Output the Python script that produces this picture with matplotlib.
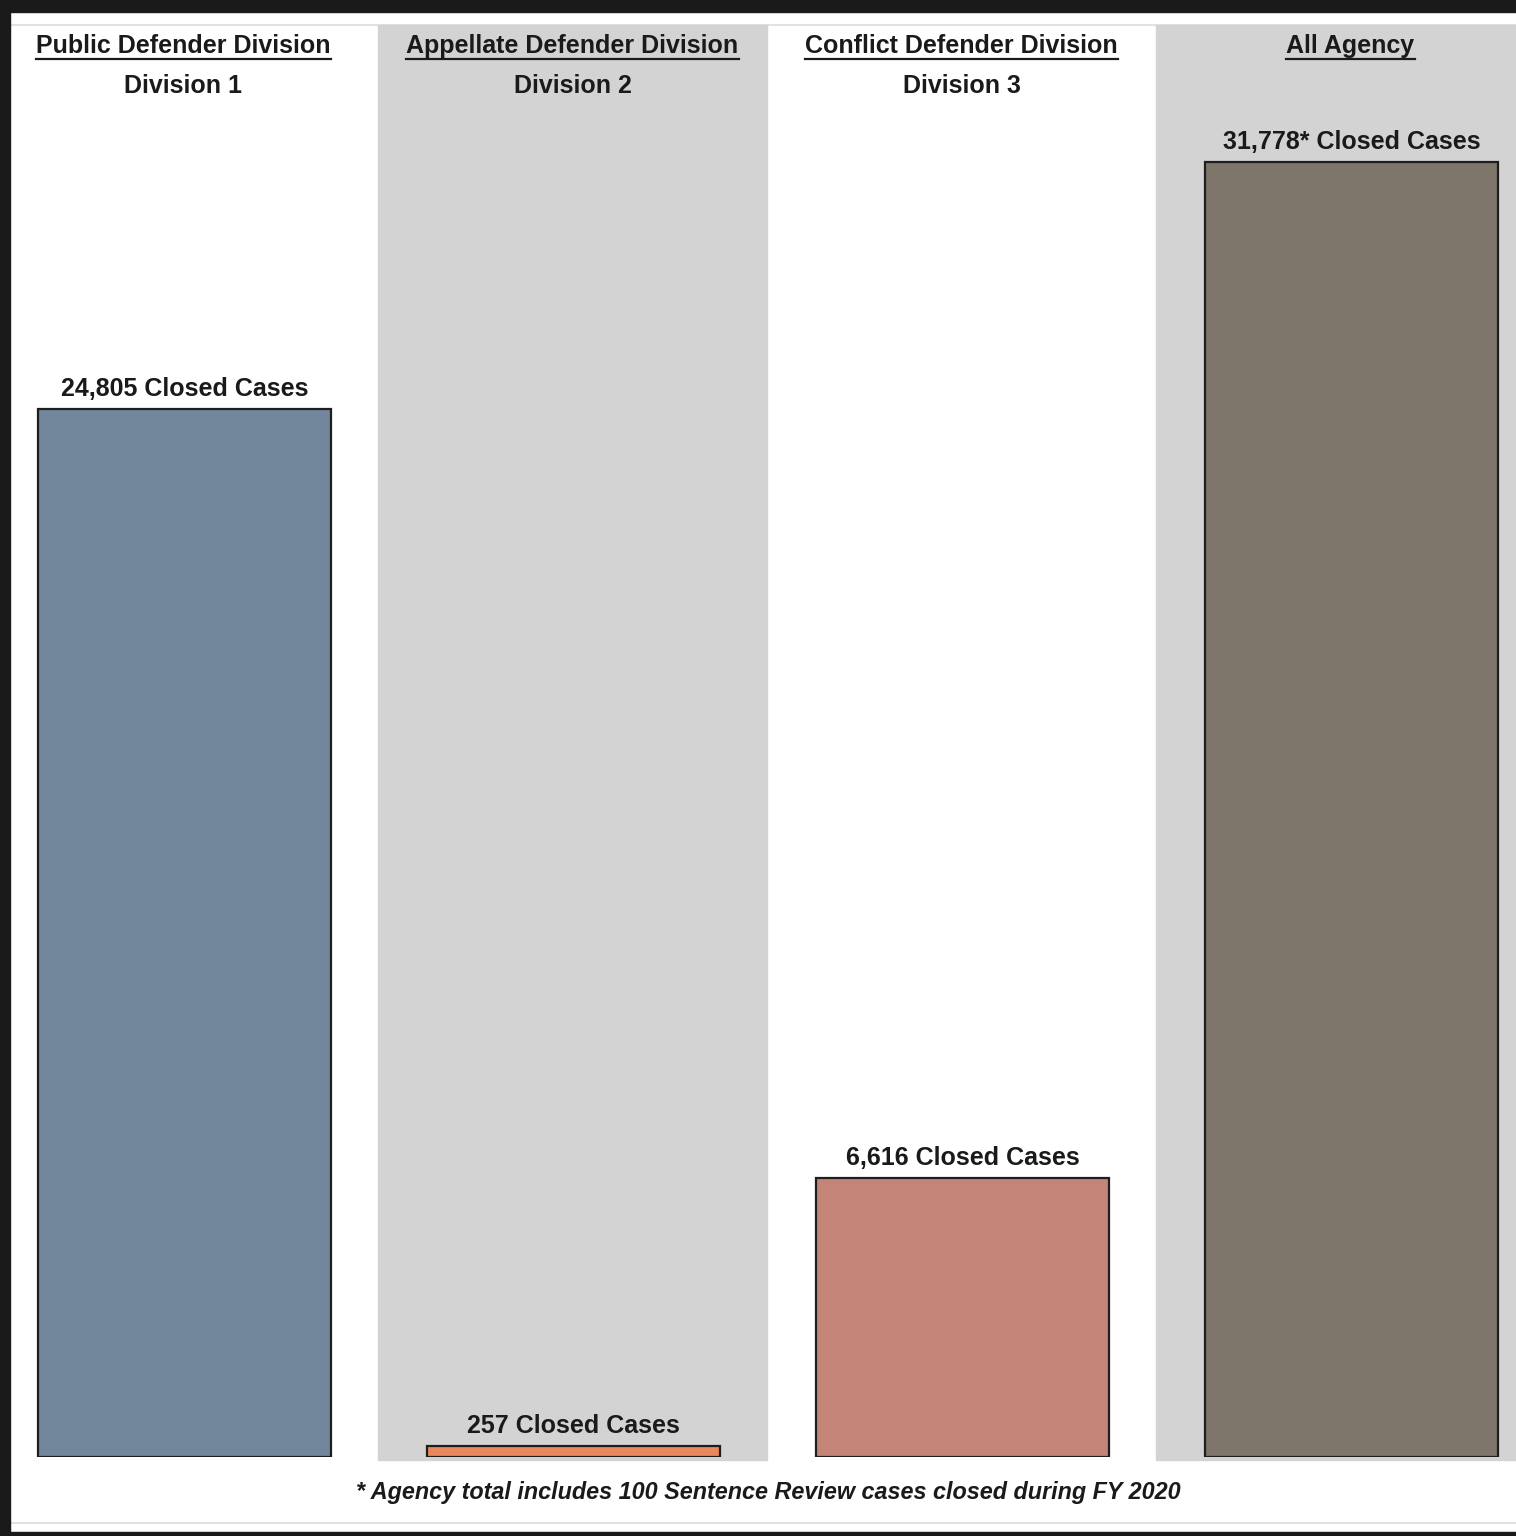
import matplotlib
matplotlib.use('Agg')
import matplotlib.pyplot as plt
from matplotlib.patches import Rectangle
from matplotlib.lines import Line2D

plt.rcParams['font.family'] = ['Liberation Sans', 'DejaVu Sans']

divisions = ['Public Defender Division', 'Appellate Defender Division',
             'Conflict Defender Division', 'All Agency']
subtitles = ['Division 1', 'Division 2', 'Division 3', '']
closed_cases = [24805, 257, 6616, 31778]
value_labels = ['24,805 Closed Cases', '257 Closed Cases',
                '6,616 Closed Cases', '31,778* Closed Cases']
footnote = '* Agency total includes 100 Sentence Review cases closed during FY 2020'

bar_colors = ['#72879b', '#e8885c', '#c48477', '#7e756b']
panel_colors = ['white', '#d3d3d3', 'white', '#d3d3d3']
ylims = [33900, 33900, 33900, 35150]   # last chart has its own scale

W, H = 1516, 1536
fig = plt.figure(figsize=(W / 100, H / 100), dpi=100)
fig.patch.set_facecolor('white')

def fx(px):
    return px / W

def fy(py):
    return 1 - py / H

# black frame (cropped screenshot: top, left, bottom)
fig.patches.append(Rectangle((0, fy(12)), 1, fy(0) - fy(12), transform=fig.transFigure,
                             color='#1a1a1a', zorder=-2))
fig.patches.append(Rectangle((0, 0), fx(10), 1, transform=fig.transFigure,
                             color='#1a1a1a', zorder=-2))
fig.patches.append(Rectangle((0, 0), 1, fy(1532), transform=fig.transFigure,
                             color='#1a1a1a', zorder=-2))
for yy in (25, 1523):
    fig.lines.append(Line2D([fx(11), 1], [fy(yy), fy(yy)], transform=fig.transFigure,
                            color='#e2e2e2', lw=1.5, zorder=-2))

panel_w = 389
x_start = -10
titles = []
for i in range(4):
    x0 = x_start + panel_w * i
    if panel_colors[i] != 'white':
        fig.patches.append(Rectangle((fx(x0 - 1), fy(1460)), fx(panel_w), fy(25) - fy(1460),
                                     transform=fig.transFigure, color=panel_colors[i],
                                     zorder=-1))
    ax = fig.add_axes([fx(x0), fy(1457), fx(panel_w), fy(25) - fy(1457)])
    ax.patch.set_alpha(0)
    ax.bar([0], [closed_cases[i]], width=0.753, color=bar_colors[i],
           edgecolor='#1e1e1e', linewidth=1.6)
    ax.set_xlim(-0.5, 0.5)
    ax.set_ylim(0, ylims[i])
    ax.axis('off')
    ax.annotate(value_labels[i], (0, closed_cases[i]), xytext=(0, 8),
                textcoords='offset pixels', ha='center', va='bottom',
                fontsize=18, fontweight='bold', color='#1a1a1a')
    cx = fx(x0 + panel_w / 2 - 1)
    t = fig.text(cx, fy(46), divisions[i], ha='center', va='center',
                 fontsize=18, fontweight='bold', color='#1a1a1a')
    titles.append(t)
    if subtitles[i]:
        fig.text(cx, fy(86), subtitles[i], ha='center', va='center',
                 fontsize=18, fontweight='bold', color='#1a1a1a')

fig.text(fx(768), fy(1493), footnote, ha='center', va='center', fontsize=16.8,
         fontweight='bold', style='italic', color='#1a1a1a')

# underline the division titles
fig.canvas.draw()
r = fig.canvas.get_renderer()
for t in titles:
    bb = t.get_window_extent(r)
    y = bb.y0 - 1
    fig.lines.append(Line2D([bb.x0 / W, bb.x1 / W], [y / H, y / H],
                            transform=fig.transFigure, color='#1a1a1a', lw=1.6))

fig.savefig('out.png', dpi=100)
